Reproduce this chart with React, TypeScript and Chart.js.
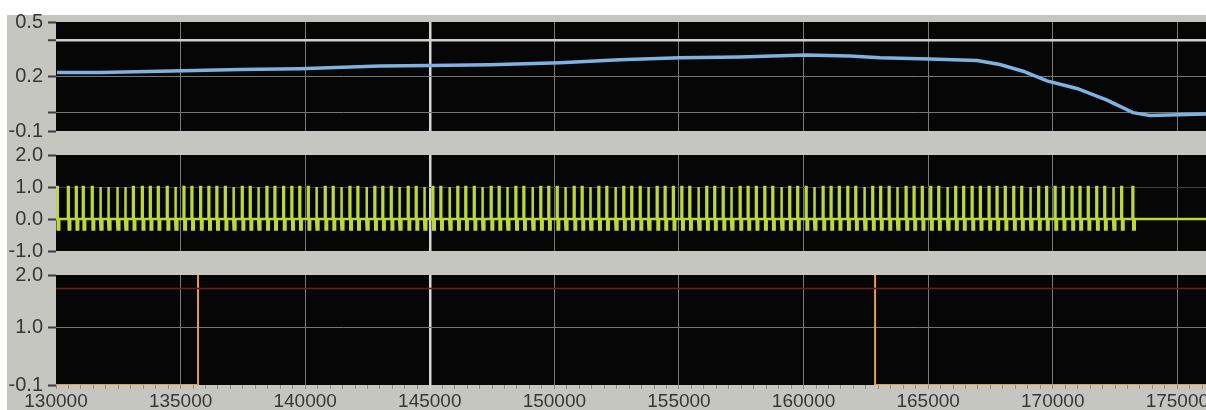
import React, { useEffect, useRef } from "react";
import { Chart, registerables } from "chart.js";

Chart.register(...registerables);

// ---------- shared x axis ----------
const X_MIN = 130000;
const X_MAX = 176150;
const X_MINOR_STEP = 500;
const CURSOR_X = 145000;
const xMajorTicks = [130000, 135000, 140000, 145000, 150000, 155000, 160000, 165000, 170000, 175000];
const xTickLabels = ["130000", "135000", "140000", "145000", "150000", "155000", "160000", "165000", "170000", "175000"];

// ---------- panel 1 : level (blue) ----------
const levelTimes = [130040, 131770, 135100, 137380, 139790, 143000, 145010, 147420, 150230, 152630, 155040, 157450, 160060, 161860, 163070, 165070, 166960, 167880, 168810, 169770, 170970, 172180, 173220, 173900, 176150];
const levelValues = [0.222, 0.222, 0.232, 0.238, 0.243, 0.258, 0.260, 0.265, 0.276, 0.292, 0.303, 0.308, 0.319, 0.313, 0.303, 0.297, 0.288, 0.266, 0.229, 0.176, 0.134, 0.070, 0.001, -0.015, -0.006];
const levelTicks = [-0.1, 0.0, 0.2, 0.4, 0.5];
const levelTickLabels = ["-0.1", "", "0.2", "", "0.5"];

// ---------- panel 2 : pulses (green) ----------
const pulseTimes = [
  130040, 130480, 130800, 131080, 131440, 131770, 132090, 132450, 132770, 133090, 133450, 133770, 134090, 134450,
  134780, 135120, 135440, 135790, 136120, 136440, 136780, 137110, 137460, 137780,
  138110, 138450, 138770, 139120, 139450, 139770, 140110, 140440, 140790, 141110,
  141440, 141780, 142100, 142450, 142780, 143100, 143440, 143770, 144120, 144440,
  144770, 145110, 145430, 145780, 146110, 146430, 146770, 147100, 147450, 147770,
  148100, 148440, 148760, 149110, 149440, 149760, 150100, 150430, 150780, 151100,
  151430, 151770, 152090, 152440, 152770, 153090, 153430, 153760, 154110, 154430,
  154760, 155100, 155420, 155770, 156100, 156420, 156760, 157090, 157440, 157760,
  158090, 158430, 158750, 159100, 159430, 159750, 160090, 160420, 160770, 161090,
  161420, 161760, 162080, 162430, 162760, 163080, 163420, 163750, 164100, 164420,
  164750, 165090, 165410, 165760, 166090, 166410, 166750, 167080, 167430, 167750,
  168080, 168420, 168740, 169090, 169420, 169740, 170080, 170410, 170760, 171080,
  171410, 171750, 172070, 172420, 172750, 173200,
];
const pulseBase = 0.0;
const pulseHigh = 1.0;
const pulseLow = -0.33;
const pulseTicks = [-1, 0, 1, 2];
const pulseTickLabels = ["-1.0", "0.0", "1.0", "2.0"];

// ---------- panel 3 : step (orange) ----------
const stepTimes = [130000, 135700, 135700, 162870, 162870, 176150];
const stepValues = [-0.1, -0.1, 2.4, 2.4, -0.1, -0.1];
const thresholdValue = 1.74;
const stepTicks = [-0.1, 1.0, 2.0];
const stepTickLabels = ["-0.1", "1.0", "2.0"];

// ---------- layout / style constants ----------
const W = 1206;
const PANEL_LEFT = 56;
const SPIKE_W = 30;
const DIP_W = 90;
const Y_FONT = '"Liberation Sans", "DejaVu Sans", sans-serif';
const X_FONT = '"Liberation Sans", "DejaVu Sans", sans-serif';
const LABEL_COLOR = "#363636";

const plotBg = {
  id: "plotBg",
  beforeDraw(chart: any) {
    const { ctx, chartArea: a } = chart;
    ctx.save();
    ctx.fillStyle = "#060606";
    ctx.fillRect(a.left, a.top, a.right - a.left, a.bottom - a.top);
    ctx.restore();
  },
};

function xScale(showLabels: boolean) {
  return {
    type: "linear",
    min: X_MIN,
    max: X_MAX,
    afterBuildTicks: (s: any) => {
      const t: any[] = [];
      for (let v = X_MIN; v < X_MAX; v += X_MINOR_STEP) t.push({ value: v });
      s.ticks = t;
    },
    afterFit: (s: any) => {
      s.height = showLabels ? 25 : 0;
    },
    border: { display: false },
    grid: {
      color: (c: any) => {
        const v = c.tick && c.tick.value;
        if (v === CURSOR_X) return "#d6d6d2";
        if (v === X_MIN) return "rgba(0,0,0,0)";
        return v % 5000 === 0 ? "#7a7a78" : "rgba(0,0,0,0)";
      },
      lineWidth: (c: any) => (c.tick && c.tick.value === CURSOR_X ? 2.5 : 1),
      drawTicks: showLabels,
      tickLength: 4,
      tickWidth: 1,
      tickColor: (c: any) => (c.tick && c.tick.value === CURSOR_X ? "#e0e0dc" : "#8c8c88"),
    },
    ticks: {
      display: showLabels,
      autoSkip: false,
      maxRotation: 0,
      minRotation: 0,
      padding: 1,
      color: LABEL_COLOR,
      font: { family: X_FONT, size: 19 },
      callback: (v: any) => {
        const i = xMajorTicks.indexOf(v);
        return i >= 0 ? xTickLabels[i] : "";
      },
    },
  };
}

function yScale(min: number, max: number, ticks: number[], labels: string[], gridColor: (v: number) => string, gridWidth: (v: number) => number) {
  return {
    type: "linear",
    min,
    max,
    afterBuildTicks: (s: any) => {
      s.ticks = ticks.map((v) => ({ value: v }));
    },
    afterFit: (s: any) => {
      s.width = PANEL_LEFT;
    },
    border: { display: false },
    grid: {
      color: (c: any) => gridColor(c.tick ? c.tick.value : NaN),
      lineWidth: (c: any) => gridWidth(c.tick ? c.tick.value : NaN),
      drawTicks: true,
      tickLength: 8,
      tickWidth: 2,
      tickColor: "#3c3c3c",
    },
    ticks: {
      autoSkip: false,
      padding: 5,
      color: LABEL_COLOR,
      font: { family: Y_FONT, size: 20 },
      callback: (_v: any, i: number) => labels[i],
    },
  };
}

function baseOptions(padding: any, x: any, y: any) {
  return {
    responsive: false,
    animation: false,
    events: [],
    layout: { padding },
    plugins: { legend: { display: false }, tooltip: { enabled: false } },
    elements: { point: { radius: 0 }, line: { tension: 0 } },
    scales: { x, y },
  };
}

export default function App() {
  const c1 = useRef<HTMLCanvasElement>(null);
  const c2 = useRef<HTMLCanvasElement>(null);
  const c3 = useRef<HTMLCanvasElement>(null);

  useEffect(() => {
    const charts: Chart[] = [];

    // panel 1
    const levelData = levelTimes.map((t, i) => ({ x: t, y: levelValues[i] }));
    charts.push(
      new Chart(c1.current as HTMLCanvasElement, {
        type: "line",
        data: {
          datasets: [
            { data: levelData, borderColor: "#7db2e2", borderWidth: 3.5, pointRadius: 0 },
          ],
        },
        options: baseOptions(
          { top: 22, bottom: 13, left: 0, right: 0 },
          xScale(false),
          yScale(
            -0.1,
            0.5,
            levelTicks,
            levelTickLabels,
            (v) => (v === 0.4 ? "#cfcfcb" : v === 0.2 || v === 0 ? "#767674" : "rgba(0,0,0,0)"),
            (v) => (v === 0.4 ? 2.5 : 1)
          )
        ) as any,
        plugins: [plotBg],
      })
    );

    // panel 2
    const pulseData: { x: number; y: number }[] = [{ x: X_MIN, y: pulseBase }];
    pulseTimes.forEach((t) => {
      pulseData.push({ x: t, y: pulseBase });
      pulseData.push({ x: t, y: pulseHigh });
      pulseData.push({ x: t + SPIKE_W, y: pulseHigh });
      pulseData.push({ x: t + SPIKE_W, y: pulseLow });
      pulseData.push({ x: t + DIP_W, y: pulseLow });
      pulseData.push({ x: t + DIP_W, y: pulseBase });
    });
    pulseData.push({ x: X_MAX, y: pulseBase });
    charts.push(
      new Chart(c2.current as HTMLCanvasElement, {
        type: "line",
        data: {
          datasets: [
            { data: pulseData, borderColor: "#bcd83a", borderWidth: 2.5, pointRadius: 0 },
          ],
        },
        options: baseOptions(
          { top: 12, bottom: 12, left: 0, right: 0 },
          xScale(false),
          yScale(
            -1,
            2,
            pulseTicks,
            pulseTickLabels,
            (v) => (v === 1 ? "#3e3e3c" : "rgba(0,0,0,0)"),
            () => 1
          )
        ) as any,
        plugins: [plotBg],
      })
    );

    // panel 3
    const stepData = stepTimes.map((t, i) => ({ x: t, y: stepValues[i] }));
    charts.push(
      new Chart(c3.current as HTMLCanvasElement, {
        type: "line",
        data: {
          datasets: [
            {
              data: [
                { x: X_MIN, y: thresholdValue },
                { x: X_MAX, y: thresholdValue },
              ],
              borderColor: "#6e1a22",
              borderWidth: 1.5,
              pointRadius: 0,
            },
            { data: stepData, borderColor: "#e2a040", borderWidth: 2, pointRadius: 0 },
          ],
        },
        options: baseOptions(
          { top: 13, bottom: 0, left: 0, right: 0 },
          xScale(true),
          yScale(
            -0.1,
            2.0,
            stepTicks,
            stepTickLabels,
            (v) => (v === 1 ? "#767674" : "rgba(0,0,0,0)"),
            () => 1
          )
        ) as any,
        plugins: [plotBg],
      })
    );

    return () => charts.forEach((c) => c.destroy());
  }, []);

  const canvasStyle = (top: number): React.CSSProperties => ({
    position: "absolute",
    left: 0,
    top,
    display: "block",
  });

  return (
    <div style={{ position: "absolute", left: 0, top: 0, width: W, height: 410, background: "#ffffff", overflow: "hidden" }}>
      <div style={{ position: "absolute", left: 7, top: 15, right: 0, bottom: 0, background: "#c6c6c1" }} />
      <canvas ref={c1} width={W} height={148} style={canvasStyle(0)} />
      <canvas ref={c2} width={W} height={130} style={canvasStyle(138)} />
      <canvas ref={c3} width={W} height={152} style={canvasStyle(258)} />
    </div>
  );
}
